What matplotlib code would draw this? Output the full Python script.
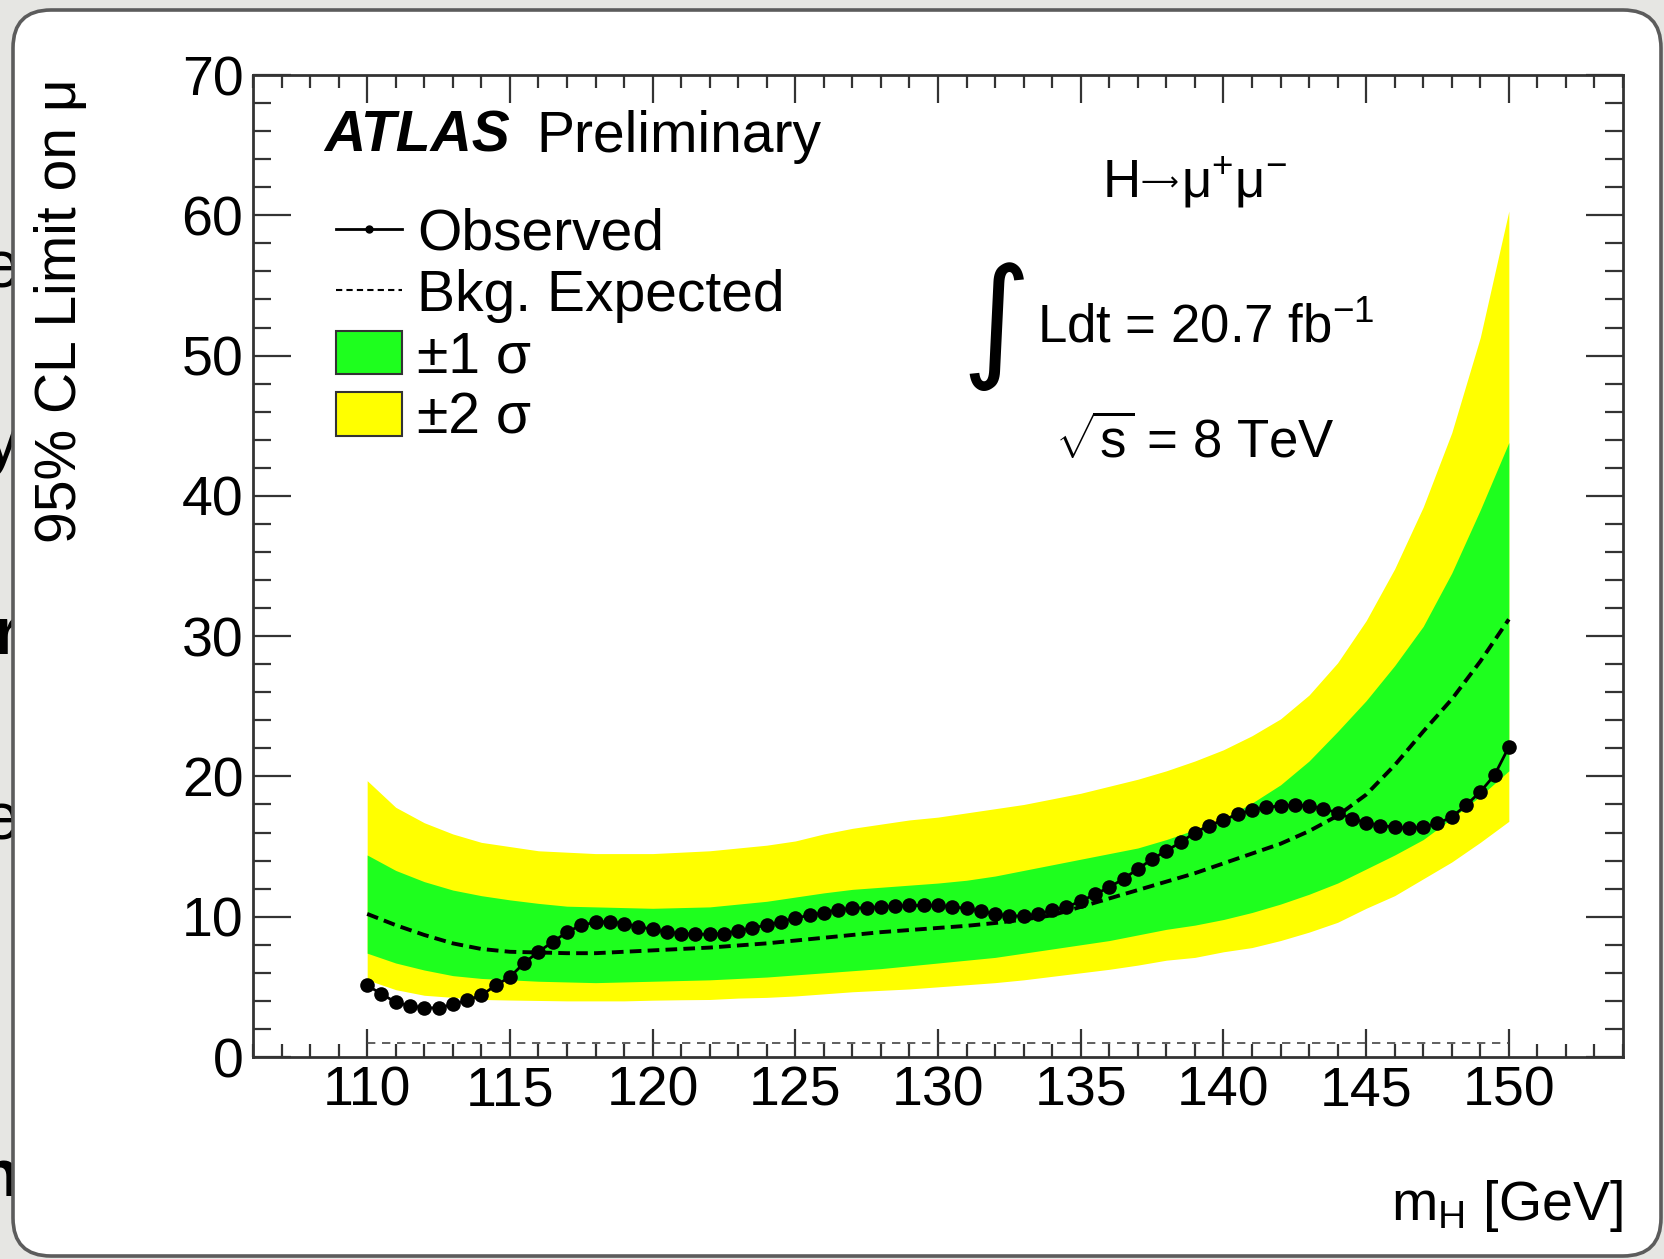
import numpy as np
import matplotlib
matplotlib.use("Agg")
import matplotlib.pyplot as plt
from matplotlib.lines import Line2D
from matplotlib.patches import Patch, FancyBboxPatch
from matplotlib.transforms import IdentityTransform
from matplotlib.ticker import MultipleLocator

plt.rcParams['font.family'] = ['Liberation Sans', 'DejaVu Sans']
plt.rcParams['mathtext.fontset'] = 'custom'
plt.rcParams['mathtext.rm'] = 'Liberation Sans'
plt.rcParams['mathtext.it'] = 'Liberation Sans:italic'
plt.rcParams['mathtext.bf'] = 'Liberation Sans:bold'

W, H = 1665, 1259

# observed limit, 0.5 GeV steps from 110 to 150
mass_obs = np.arange(110, 150.01, 0.5)
obs = [5.1, 4.5, 3.9, 3.65, 3.5, 3.5, 3.75, 4.05, 4.4, 5.1,
       5.7, 6.7, 7.5, 8.2, 8.9, 9.4, 9.6, 9.65, 9.5, 9.3,
       9.1, 8.9, 8.8, 8.75, 8.75, 8.8, 9.0, 9.2, 9.4, 9.65,
       9.9, 10.1, 10.3, 10.5, 10.6, 10.65, 10.7, 10.75, 10.8, 10.8,
       10.8, 10.7, 10.6, 10.4, 10.2, 10.05, 10.05, 10.2, 10.45, 10.7,
       11.1, 11.6, 12.1, 12.7, 13.4, 14.1, 14.7, 15.3, 16.0, 16.5,
       16.9, 17.3, 17.6, 17.8, 17.9, 17.95, 17.9, 17.7, 17.4, 17.0,
       16.7, 16.5, 16.4, 16.3, 16.4, 16.65, 17.1, 17.95, 18.9, 20.1,
       22.1]

# expected limit and bands, 1 GeV steps
mass = np.arange(110, 151)
exp = [10.2, 9.4, 8.7, 8.1, 7.7, 7.5, 7.45, 7.4, 7.4, 7.5,
       7.6, 7.7, 7.8, 7.95, 8.1, 8.3, 8.5, 8.7, 8.9, 9.05,
       9.2, 9.35, 9.55, 9.8, 10.1, 10.7, 11.3, 11.9, 12.5, 13.1,
       13.8, 14.5, 15.2, 16.1, 17.2, 18.7, 20.8, 23.2, 25.5, 28.2,
       31.2]
up1 = [14.4, 13.3, 12.5, 11.9, 11.5, 11.2, 10.95, 10.75, 10.7, 10.65,
       10.6, 10.65, 10.7, 10.9, 11.1, 11.4, 11.7, 11.95, 12.1, 12.25,
       12.4, 12.6, 12.9, 13.3, 13.7, 14.1, 14.5, 14.9, 15.5, 16.2,
       17.0, 18.1, 19.4, 21.1, 23.2, 25.4, 27.9, 30.7, 34.5, 39.0,
       43.8]
dn1 = [7.4, 6.7, 6.2, 5.8, 5.6, 5.5, 5.4, 5.35, 5.3, 5.35,
       5.4, 5.45, 5.5, 5.6, 5.7, 5.85, 6.0, 6.15, 6.3, 6.5,
       6.7, 6.9, 7.1, 7.4, 7.7, 8.0, 8.3, 8.7, 9.1, 9.4,
       9.8, 10.3, 10.9, 11.6, 12.4, 13.4, 14.4, 15.5, 17.0, 18.6,
       20.4]
up2 = [19.7, 17.8, 16.7, 15.9, 15.3, 15.0, 14.7, 14.6, 14.5, 14.5,
       14.5, 14.6, 14.7, 14.9, 15.1, 15.4, 15.9, 16.3, 16.6, 16.9,
       17.1, 17.4, 17.7, 18.0, 18.4, 18.8, 19.3, 19.8, 20.4, 21.1,
       21.9, 22.9, 24.1, 25.8, 28.1, 31.1, 34.8, 39.2, 44.5, 51.3,
       60.3]
dn2 = [5.5, 4.8, 4.4, 4.25, 4.1, 4.06, 4.03, 4.0, 4.0, 4.0,
       4.05, 4.08, 4.1, 4.2, 4.25, 4.35, 4.5, 4.65, 4.75, 4.85,
       5.0, 5.15, 5.3, 5.5, 5.75, 6.0, 6.25, 6.55, 6.9, 7.1,
       7.5, 7.8, 8.3, 8.9, 9.6, 10.6, 11.5, 12.7, 13.9, 15.3,
       16.8]
mu_sm = 1.0

green = '#1eff1e'
yellow = '#ffff00'


def fx(px):
    return px / W


def fy(py):
    return 1 - py / H


fig = plt.figure(figsize=(W / 100, H / 100), dpi=100, facecolor='#e6e6e3')

# screenshot frame, with slivers of the slide letters behind it
for ch, y, wt in [('e', 271, 'normal'), ('y', 446, 'normal'), ('r', 637, 'bold'),
                  ('e', 823, 'normal'), ('n', 1179, 'bold')]:
    fig.text(19, H - y, ch, transform=IdentityTransform(), fontsize=48,
             fontweight=wt, ha='right', va='center', color='black', zorder=0)
panel = FancyBboxPatch((13, 3), 1648, 1246, boxstyle='round,pad=0,rounding_size=38',
                       transform=IdentityTransform(), facecolor='white',
                       edgecolor='#5c5c5c', linewidth=2.6, zorder=1)
fig.add_artist(panel)

ax = fig.add_axes([253 / W, 1 - 1057 / H, 1370 / W, 982 / H], zorder=2)
ax.set_facecolor('white')

ax.fill_between(mass, dn2, up2, color=yellow, lw=0, zorder=1)
ax.fill_between(mass, dn1, up1, color=green, lw=0, zorder=2)
ax.plot(mass, exp, color='black', lw=2.8, ls=(0, (3.0, 1.6)), zorder=3)
ax.plot([mass[0], mass[-1]], [mu_sm, mu_sm], color='#444444', lw=1.2,
        ls=(0, (5, 4)), zorder=3)
ax.plot(mass_obs, obs, color='black', lw=2.0, marker='o', ms=10.5, mew=0, zorder=4)

ax.set_xlim(106, 154)
ax.set_ylim(0, 70)
ax.xaxis.set_minor_locator(MultipleLocator(1))
ax.yaxis.set_major_locator(MultipleLocator(10))
ax.yaxis.set_minor_locator(MultipleLocator(2))
ax.set_xticks(np.arange(110, 151, 5))
ax.tick_params(which='both', direction='in', top=True, right=True,
               color='#333333', width=1.6, labelsize=40)
ax.tick_params(axis='x', which='major', length=20, pad=6)
ax.tick_params(axis='x', which='minor', length=9.5)
ax.tick_params(axis='y', which='major', length=27, pad=7)
ax.tick_params(axis='y', which='minor', length=13)
for s in ax.spines.values():
    s.set_linewidth(2.0)
    s.set_color('#333333')

fig.text(fx(61), fy(78), '95% CL Limit on μ', rotation=90, fontsize=41,
         ha='center', va='top')
fig.text(fx(1623), fy(1220), r'm$_{\rm H}$ [GeV]', fontsize=40,
         ha='right', va='baseline')

fig.text(fx(324), fy(152), 'ATLAS', fontsize=41, fontweight='bold',
         fontstyle='italic', va='baseline')
fig.text(fx(536), fy(152), 'Preliminary', fontsize=41, va='baseline')

# H -> mu+ mu- : arrow drawn as its own text so the long arrow glyph is found
fig.text(fx(1103), fy(197), 'H', fontsize=38, va='baseline')
fig.text(fx(1141), fy(181), '⟶', fontsize=19, family='DejaVu Sans',
         va='center_baseline')
fig.text(fx(1181), fy(197), r'μ$^{+}$μ$^{-}$', fontsize=38, va='baseline')

fig.text(fx(996), fy(326), '∫', fontsize=96, family='DejaVu Sans',
         ha='center', va='center')
fig.text(fx(1037), fy(342), r'Ldt = 20.7 fb$^{-1}$', fontsize=38,
         va='baseline')
fig.text(fx(1195), fy(458), r'$\sqrt{\rm s}$ = 8 TeV', fontsize=38,
         ha='center', va='baseline')

handles = [
    Line2D([], [], color='black', lw=2, marker='o', ms=5),
    Line2D([], [], color='black', lw=1.5, ls=(0, (3, 2))),
    Patch(facecolor=green, edgecolor='#333333', lw=1.5),
    Patch(facecolor=yellow, edgecolor='#333333', lw=1.5),
]
labels = ['Observed', 'Bkg. Expected', '±1 σ', '±2 σ']
ax.legend(handles, labels, loc='upper left', bbox_to_anchor=(0.0606, 0.865),
          frameon=False, fontsize=41, borderpad=0, borderaxespad=0,
          handlelength=1.16, handleheight=0.8, handletextpad=0.26,
          labelspacing=0.13)

fig.savefig('out.png', dpi=100, facecolor=fig.get_facecolor())
